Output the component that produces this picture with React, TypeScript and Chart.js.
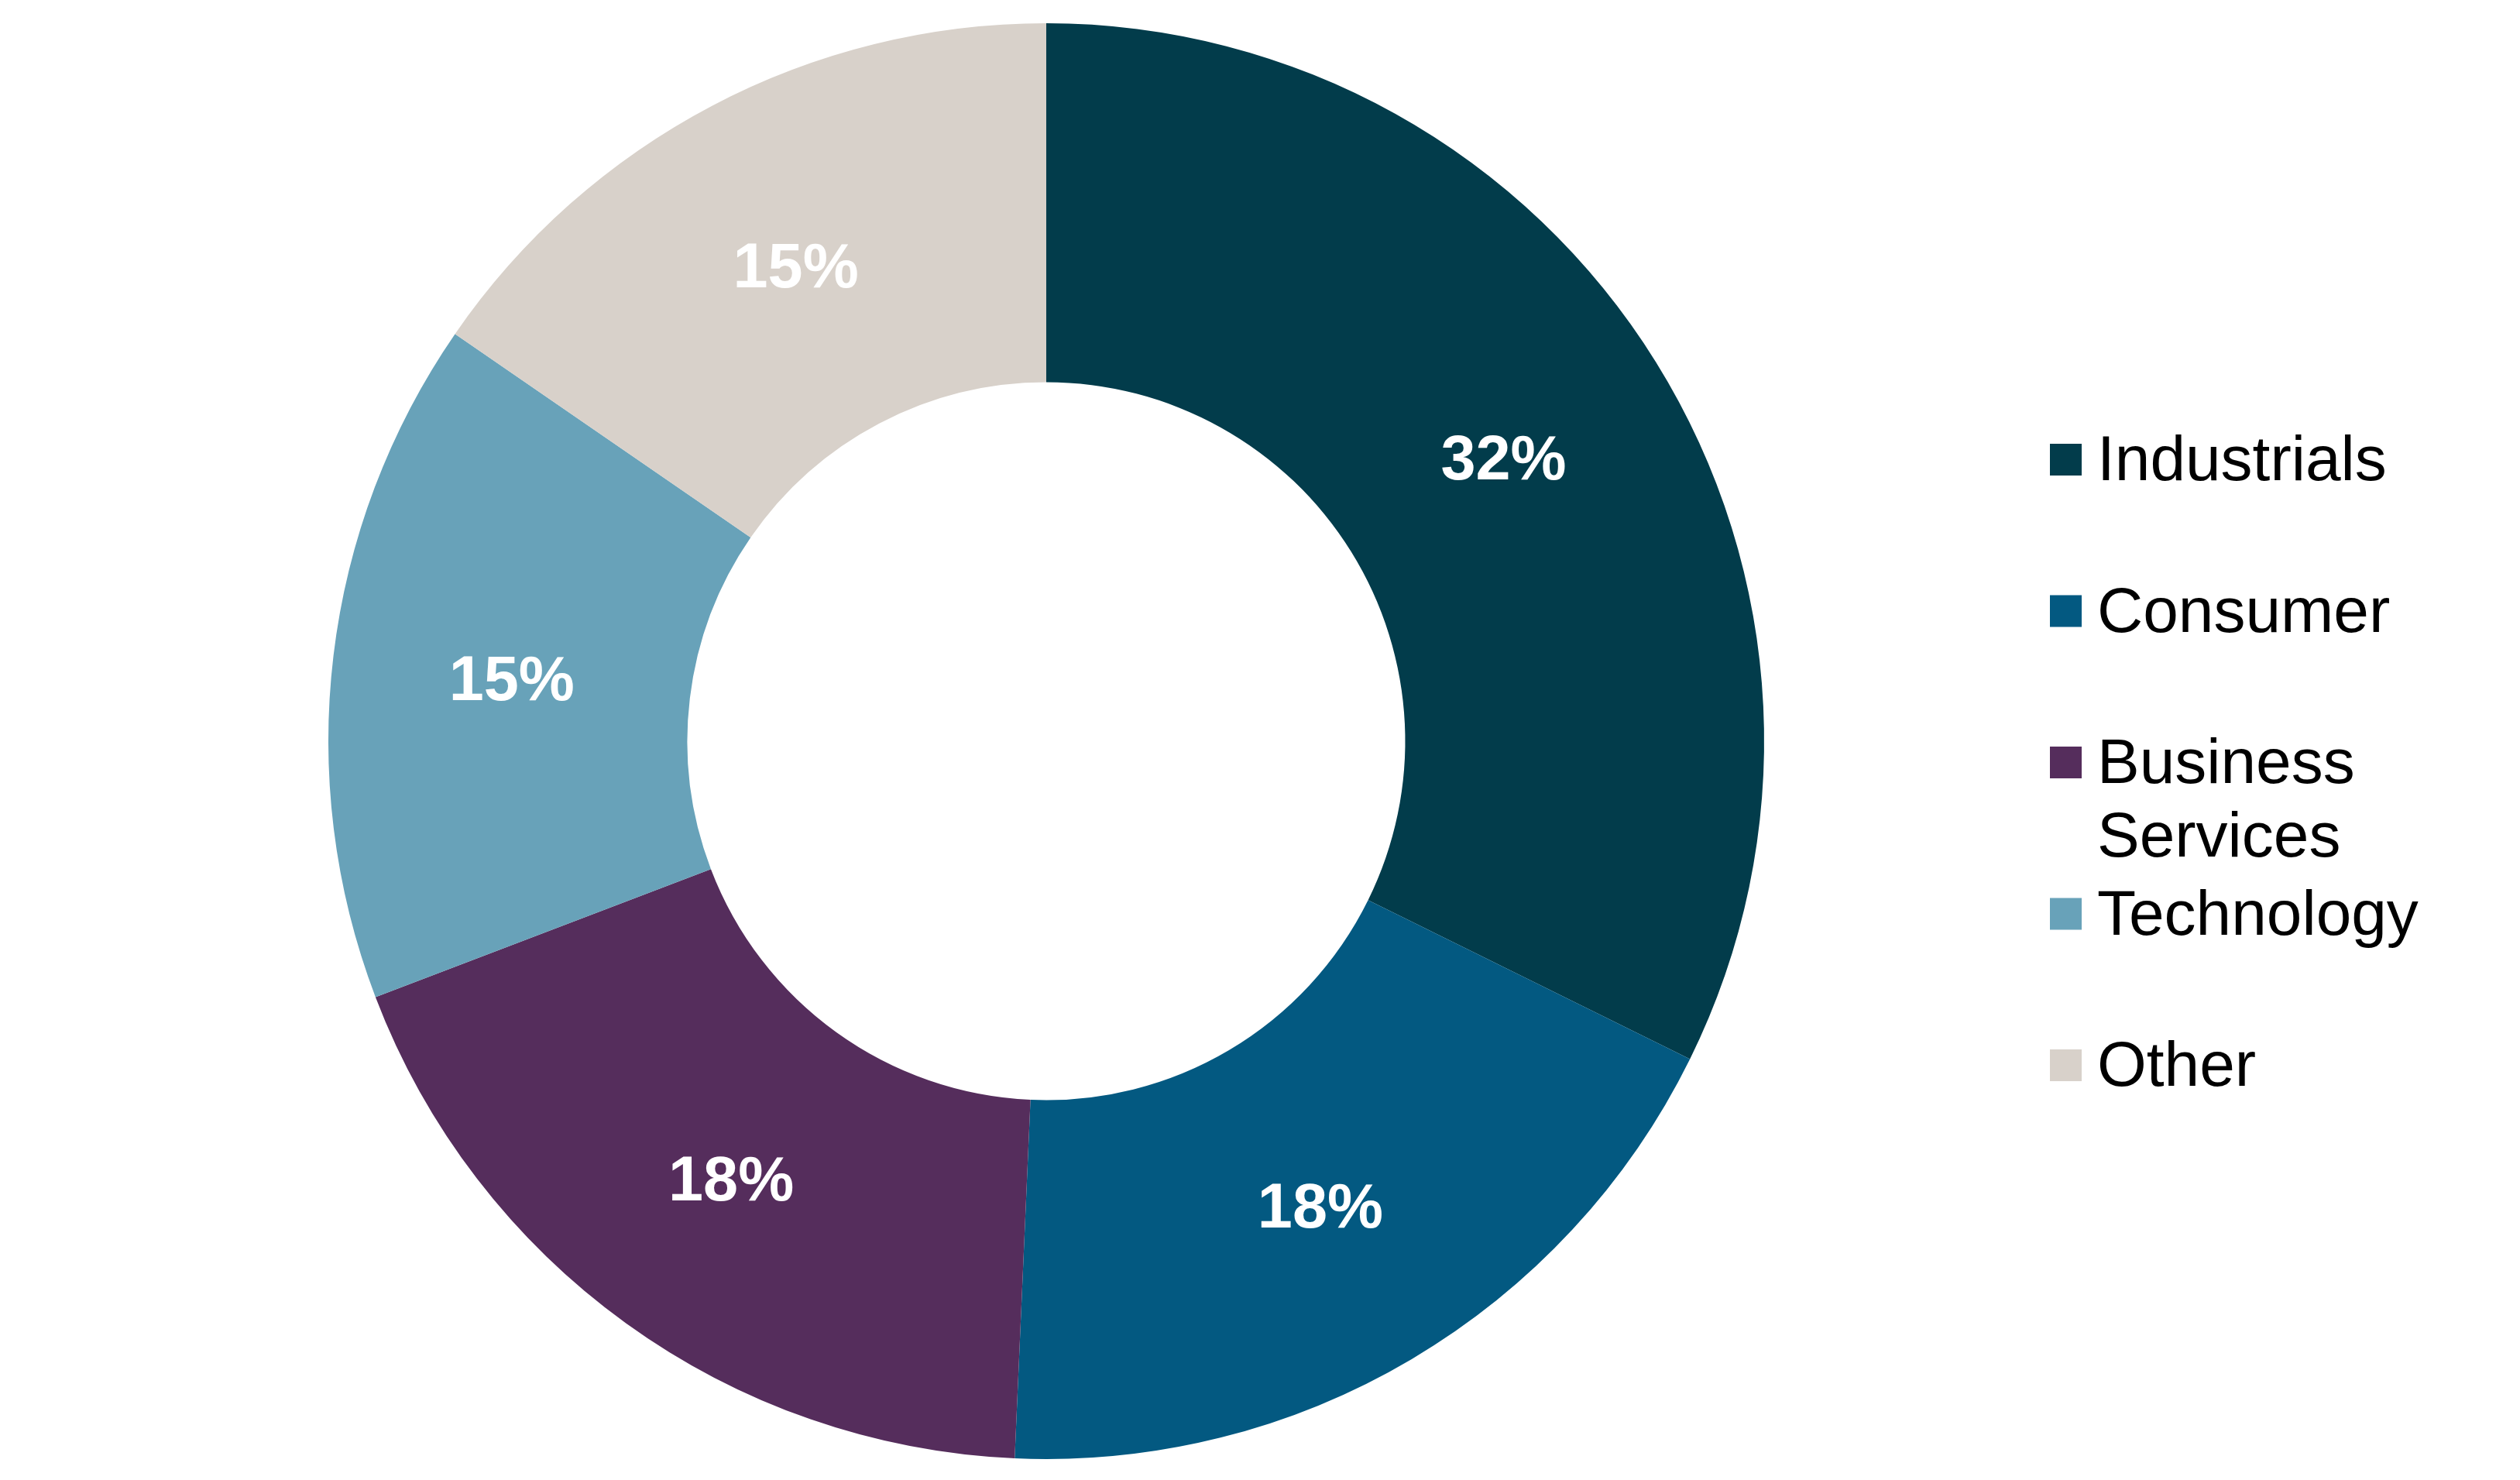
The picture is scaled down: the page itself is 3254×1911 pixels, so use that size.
import React, { useEffect, useRef } from "react";
import { Chart, registerables } from "chart.js";

Chart.register(...registerables);

const categories = ["Industrials", "Consumer", "Business Services", "Technology", "Other"];
const shares = [32.3, 18.4, 18.5, 15.4, 15.4];
const shareLabels = ["32%", "18%", "18%", "15%", "15%"];
const colors = ["#023C4B", "#035981", "#552D5C", "#68A2B9", "#D8D1CA"];

const FONT = "'Liberation Sans', Arial, Helvetica, sans-serif";

const sliceLabelPlugin = {
  id: "sliceLabels",
  afterDatasetsDraw(chart: any) {
    const ctx = chart.ctx;
    const meta = chart.getDatasetMeta(0);
    ctx.save();
    ctx.font = `bold 81px ${FONT}`;
    ctx.fillStyle = "#ffffff";
    ctx.textAlign = "center";
    ctx.textBaseline = "middle";
    meta.data.forEach((arc: any, i: number) => {
      const p = arc.getCenterPoint();
      ctx.fillText(shareLabels[i], p.x, p.y + 7);
    });
    ctx.restore();
  },
};

const legendPlugin = {
  id: "sideLegend",
  afterDraw(chart: any, _args: any, opts: any) {
    const ctx = chart.ctx;
    const labels: string[] = chart.data.labels;
    const bg: string[] = chart.data.datasets[0].backgroundColor;
    ctx.save();
    ctx.font = `82px ${FONT}`;
    ctx.textAlign = "left";
    ctx.textBaseline = "alphabetic";
    labels.forEach((label, i) => {
      const cy = opts.firstCenter + i * opts.rowStep;
      ctx.fillStyle = bg[i];
      ctx.fillRect(opts.boxX, cy - opts.box / 2, opts.box, opts.box);
      const words = label.split(" ");
      const lines: string[] = [];
      let cur = "";
      words.forEach((w) => {
        const test = cur ? cur + " " + w : w;
        if (cur && ctx.measureText(test).width > opts.maxWidth) {
          lines.push(cur);
          cur = w;
        } else cur = test;
      });
      if (cur) lines.push(cur);
      ctx.fillStyle = "#000000";
      lines.forEach((ln, j) => {
        ctx.fillText(ln, opts.textX, cy + opts.baselineOffset + j * opts.lineHeight);
      });
    });
    ctx.restore();
  },
};

export default function App() {
  const ref = useRef<HTMLCanvasElement | null>(null);
  useEffect(() => {
    if (!ref.current) return;
    const chart = new Chart(ref.current, {
      type: "doughnut",
      data: {
        labels: categories,
        datasets: [
          {
            data: shares,
            backgroundColor: colors,
            borderWidth: 0,
          },
        ],
      },
      options: {
        responsive: false,
        animation: false,
        cutout: "50%",
        layout: { padding: { left: 0, right: 552, top: 30, bottom: 27 } },
        plugins: {
          legend: { display: false },
          tooltip: { enabled: false },
          sideLegend: {
            boxX: 2647,
            box: 41,
            textX: 2708,
            firstCenter: 593.5,
            rowStep: 195.5,
            baselineOffset: 26.5,
            lineHeight: 95,
            maxWidth: 520,
          },
        } as any,
      },
      plugins: [sliceLabelPlugin, legendPlugin],
    });
    return () => chart.destroy();
  }, []);
  return (
    <div style={{ position: "absolute", left: 0, top: 0, width: 3254, height: 1911, background: "#ffffff" }}>
      <canvas ref={ref} width={3254} height={1911} style={{ width: 3254, height: 1911, display: "block" }} />
    </div>
  );
}
